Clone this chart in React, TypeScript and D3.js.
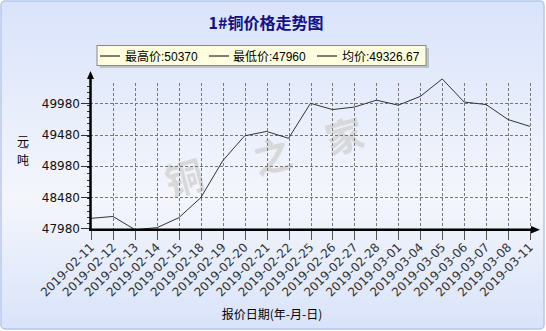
import React from "react";
import * as d3 from "d3";

const dates = ["2019-02-11","2019-02-12","2019-02-13","2019-02-14","2019-02-15","2019-02-18","2019-02-19","2019-02-20","2019-02-21","2019-02-22","2019-02-25","2019-02-26","2019-02-27","2019-02-28","2019-03-01","2019-03-04","2019-03-05","2019-03-06","2019-03-07","2019-03-08","2019-03-11"];
const prices = [48140,48170,47960,47990,48150,48470,49060,49460,49530,49420,49980,49880,49920,50030,49950,50090,50370,50000,49960,49720,49610];
const yTicks = [47980,48480,48980,49480,49980];
const legendItems = ["最高价:50370","最低价:47960","均价:49326.67"];
const title = "1#铜价格走势图";

export default function App() {
  const W = 546, H = 331;
  const x = d3.scalePoint<string>().domain(dates).range([91, 530]);
  const y = d3.scaleLinear().domain([47960, 49980]).range([229.6, 103.3]);
  const line = d3.line<number>().x((_, i) => x(dates[i])!).y(d => y(d));
  const minorTicks = d3.range(48060, 50300, 100).filter(v => !yTicks.includes(v));
  const legendX = [100, 209, 317];
  const legendTX = [125, 233, 342];
  return (
    <svg width={W} height={H} style={{ position: "absolute", left: 0, top: 0, display: "block" }}>
      <defs>
        <linearGradient id="bg" x1="0" y1="0" x2="0" y2="1">
          <stop offset="0" stopColor="#d9e3fa" />
          <stop offset="0.6" stopColor="#f4f6fc" />
          <stop offset="1" stopColor="#d9e3f9" />
        </linearGradient>
      </defs>
      <rect x={1} y={1} width={W - 3} height={H - 3} rx={4} fill="url(#bg)" stroke="#b4c8ee" strokeWidth={1.5} />
      <text x={266} y={29} textAnchor="middle" fontFamily="'Noto Sans CJK SC'" fontWeight="bold" fontSize={16} fill="#101088">{title}</text>
      {/* legend */}
      <rect x={100} y={48} width={329} height={20} fill="#999" opacity={0.5} />
      <rect x={97} y={45.5} width={329} height={20} fill="#ffffe0" stroke="#888" strokeWidth={1} />
      {legendItems.map((t, i) => (
        <g key={t}>
          <line x1={legendX[i]} x2={legendX[i] + 20} y1={56} y2={56} stroke="#000" strokeWidth={1} />
          <text x={legendTX[i]} y={60.5} fontFamily="'Liberation Sans', 'Noto Sans CJK SC'" fontSize={12} fill="#000">{t}</text>
        </g>
      ))}
      {/* watermark */}
      {["铜", "之", "家"].map((c, i) => {
        const cx = [188, 276, 348][i], cy = [192, 170, 150][i];
        return <text key={c} x={cx} y={cy} textAnchor="middle" fontFamily="'Noto Sans CJK SC'" fontWeight="bold" fontSize={38} fill="#d4d4d4" opacity={0.85} transform={`rotate(-15 ${cx} ${cy})`}>{c}</text>;
      })}
      {/* grid */}
      {yTicks.slice(1).map(v => (
        <line key={v} x1={90} x2={530} y1={Math.round(y(v)) + 0.5} y2={Math.round(y(v)) + 0.5} stroke="#777" strokeDasharray="3,2" strokeWidth={1} />
      ))}
      {dates.slice(1).map(d => (
        <line key={d} x1={Math.round(x(d)!) + 0.5} x2={Math.round(x(d)!) + 0.5} y1={83} y2={229} stroke="#777" strokeDasharray="3,2" strokeWidth={1} />
      ))}
      {/* line */}
      <path d={line(prices)!} fill="none" stroke="#333" strokeWidth={1} />
      {/* y axis */}
      {minorTicks.map(v => (
        <line key={v} x1={87} x2={90} y1={Math.round(y(v)) + 0.5} y2={Math.round(y(v)) + 0.5} stroke="#333" />
      ))}
      {yTicks.map(v => (
        <g key={v}>
          <line x1={81} x2={90} y1={Math.round(y(v)) + 0.5} y2={Math.round(y(v)) + 0.5} stroke="#333" />
          <text x={80} y={y(v) + 4.5} textAnchor="end" fontFamily="'DejaVu Sans'" fontSize={12} fill="#111">{v}</text>
        </g>
      ))}
      <line x1={90.5} x2={90.5} y1={78} y2={231} stroke="#000" strokeWidth={2.5} />
      <path d="M90.5,71 L87,79 L94,79 Z" fill="#000" />
      {/* x axis */}
      <line x1={89} x2={532} y1={229.8} y2={229.8} stroke="#000" strokeWidth={2.5} />
      <path d="M540,229.8 L531,226 L531,233.6 Z" fill="#000" />
      {dates.map(d => {
        const tx = x(d)!;
        const ax = tx + 4, ay = 248;
        return (
          <g key={d}>
            <line x1={Math.round(tx) + 0.5} x2={Math.round(tx) + 0.5} y1={231} y2={240} stroke="#555" />
            <text x={ax} y={ay} textAnchor="end" fontFamily="'DejaVu Sans'" fontSize={12} fill="#333" transform={`rotate(-45 ${ax} ${ay})`}>{d}</text>
          </g>
        );
      })}
      {/* axis titles */}
      <text x={23} y={146} textAnchor="middle" fontFamily="'Noto Sans CJK SC'" fontSize={12} fill="#000">元</text>
      <text x={23} y={150} textAnchor="middle" fontFamily="'DejaVu Sans'" fontSize={9} fill="#000" transform="rotate(75 23 148)">/</text>
      <text x={23} y={165} textAnchor="middle" fontFamily="'Noto Sans CJK SC'" fontSize={12} fill="#000">吨</text>
      <text x={272} y={319} textAnchor="middle" fontFamily="'Noto Sans CJK SC'" fontSize={12} fill="#000">报价日期(年-月-日)</text>
    </svg>
  );
}
